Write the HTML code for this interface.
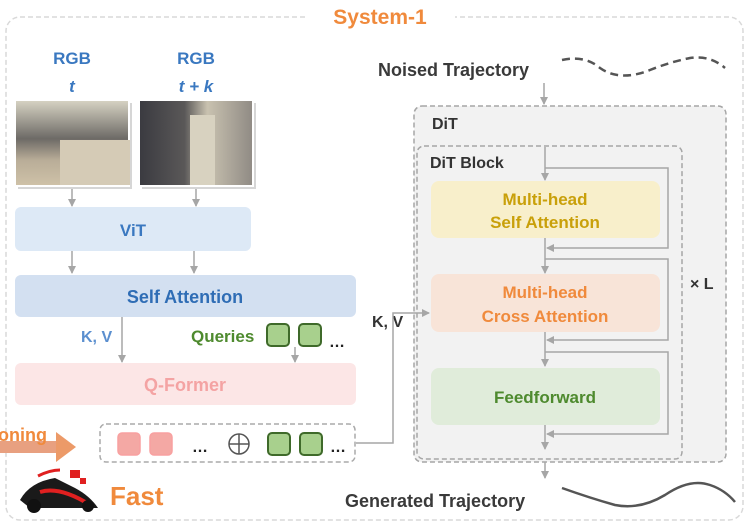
<!DOCTYPE html>
<html><head><meta charset="utf-8"><style>
body{margin:0;width:750px;height:526px;background:#fff;overflow:hidden;font-family:"Liberation Sans",sans-serif;}
</style></head><body>
<svg width="750" height="526" viewBox="0 0 750 526" xmlns="http://www.w3.org/2000/svg" font-family="Liberation Sans, sans-serif" font-weight="bold">
<defs>
<marker id="a" markerWidth="8" markerHeight="8" refX="7" refY="4" orient="auto" markerUnits="userSpaceOnUse"><path d="M0,0 L8,4 L0,8 z" fill="#a6a6a6"/></marker>
<linearGradient id="im1" x1="0" y1="0" x2="0" y2="1"><stop offset="0" stop-color="#d8d4c4"/><stop offset="0.45" stop-color="#6d6a66"/><stop offset="0.7" stop-color="#b9ad98"/><stop offset="1" stop-color="#cfc2a8"/></linearGradient>
<linearGradient id="im2" x1="0" y1="0" x2="1" y2="0"><stop offset="0" stop-color="#3a3a40"/><stop offset="0.4" stop-color="#5a5858"/><stop offset="0.6" stop-color="#c9c2b0"/><stop offset="1" stop-color="#8f8a84"/></linearGradient>
</defs>
<rect x="6" y="17" width="737" height="503" rx="14" fill="none" stroke="#d9d9d9" stroke-width="1.5" stroke-dasharray="5,3"/>
<rect x="305" y="4" width="150" height="26" fill="#fff"/>
<text x="380" y="24" text-anchor="middle" font-size="21" fill="#f08a3c">System-1</text>
<text x="72" y="64" text-anchor="middle" font-size="17" fill="#3a78c0">RGB</text>
<text x="72" y="92" text-anchor="middle" font-size="17" font-style="italic" fill="#3a78c0">t</text>
<text x="196" y="64" text-anchor="middle" font-size="17" fill="#3a78c0">RGB</text>
<text x="196" y="92" text-anchor="middle" font-size="17" font-style="italic" fill="#3a78c0">t + k</text>
<rect x="18" y="103" width="114" height="86" fill="#999" opacity="0.4"/>
<rect x="15" y="100" width="114" height="86" fill="url(#im1)" stroke="#fff" stroke-width="2"/>
<rect x="60" y="140" width="70" height="45" fill="#d5cbb6"/>
<rect x="142" y="103" width="114" height="86" fill="#999" opacity="0.4"/>
<rect x="139" y="100" width="114" height="86" fill="url(#im2)" stroke="#fff" stroke-width="2"/>
<rect x="190" y="115" width="25" height="70" fill="#d8d2c0"/>
<rect x="15" y="207" width="236" height="44" rx="6" fill="#dde9f6"/>
<text x="133" y="236" text-anchor="middle" font-size="17" fill="#3a78c0">ViT</text>
<rect x="15" y="275" width="341" height="42" rx="6" fill="#d3e0f1"/>
<text x="185" y="303" text-anchor="middle" font-size="18" fill="#2f6db5">Self Attention</text>
<text x="81" y="342" font-size="16" fill="#5b8fcf">K, V</text>
<text x="191" y="342" font-size="17" fill="#4e8a2e">Queries</text>
<rect x="267" y="324" width="22" height="22" rx="4" fill="#a8d08d" stroke="#3f6a2a" stroke-width="2"/>
<rect x="299" y="324" width="22" height="22" rx="4" fill="#a8d08d" stroke="#3f6a2a" stroke-width="2"/>
<text x="329" y="347" font-size="16" fill="#222">…</text>
<rect x="15" y="363" width="341" height="42" rx="6" fill="#fce6e6"/>
<text x="185" y="391" text-anchor="middle" font-size="18" fill="#f4a3a3">Q-Former</text>
<rect x="100" y="424" width="255" height="38" rx="6" fill="none" stroke="#aaa" stroke-width="1.5" stroke-dasharray="5,3"/>
<rect x="118" y="433" width="22" height="22" rx="4" fill="#f4a8a4" stroke="#f8a0a0" stroke-width="1.5"/>
<rect x="150" y="433" width="22" height="22" rx="4" fill="#f4a8a4" stroke="#f8a0a0" stroke-width="1.5"/>
<text x="192" y="452" font-size="16" fill="#222">…</text>
<circle cx="239" cy="444" r="10" fill="none" stroke="#555" stroke-width="1.5"/>
<line x1="229" y1="444" x2="249" y2="444" stroke="#555" stroke-width="1.5"/><line x1="239" y1="434" x2="239" y2="454" stroke="#555" stroke-width="1.5"/>
<rect x="268" y="433" width="22" height="22" rx="4" fill="#a8d08d" stroke="#3f6a2a" stroke-width="2"/>
<rect x="300" y="433" width="22" height="22" rx="4" fill="#a8d08d" stroke="#3f6a2a" stroke-width="2"/>
<text x="330" y="452" font-size="16" fill="#222">…</text>
<rect x="0" y="441" width="60" height="12" fill="#e8a080"/>
<path d="M56,432 L76,447 L56,462 z" fill="#ec9a68"/>
<text x="-2" y="441" font-size="18" fill="#f08a3c">oning</text>
<path d="M20,500 Q30,482 55,478 L75,488 Q90,496 98,508 L30,508 Z" fill="#1a1a1a"/>
<path d="M40,492 Q60,486 90,505" stroke="#e02020" stroke-width="4" fill="none"/>
<path d="M38,476 Q50,470 60,470" stroke="#e02020" stroke-width="3" fill="none"/>
<rect x="70" y="470" width="10" height="8" fill="#e02020"/><rect x="80" y="478" width="6" height="6" fill="#e02020"/>
<circle cx="34" cy="506" r="7" fill="#111"/><circle cx="88" cy="506" r="6" fill="#111"/>
<text x="110" y="505" font-size="26" fill="#f08a3c">Fast</text>
<text x="372" y="327" font-size="16" fill="#333">K, V</text>
<text x="378" y="76" font-size="18" fill="#3a3a3a">Noised Trajectory</text>
<path d="M562,60 Q585,55 600,68 Q620,82 650,70 Q670,62 690,58 Q710,55 725,68" fill="none" stroke="#555" stroke-width="2.5" stroke-dasharray="8,5"/>
<rect x="414" y="106" width="312" height="356" rx="8" fill="#f2f2f2" stroke="#a6a6a6" stroke-width="1.5" stroke-dasharray="5,3"/>
<text x="432" y="129" font-size="16" fill="#333">DiT</text>
<rect x="417" y="146" width="265" height="313" rx="7" fill="#f2f2f2" stroke="#a6a6a6" stroke-width="1.5" stroke-dasharray="5,3"/>
<text x="430" y="168" font-size="16" fill="#333">DiT Block</text>
<text x="690" y="289" font-size="16" fill="#333">× L</text>
<rect x="431" y="181" width="229" height="57" rx="8" fill="#f8efcb"/>
<text x="545" y="205" text-anchor="middle" font-size="17" fill="#c9a00a">Multi-head</text>
<text x="545" y="228" text-anchor="middle" font-size="17" fill="#c9a00a">Self Attention</text>
<rect x="431" y="274" width="229" height="58" rx="8" fill="#f8e4d8"/>
<text x="545" y="298" text-anchor="middle" font-size="17" fill="#f08a3c">Multi-head</text>
<text x="545" y="322" text-anchor="middle" font-size="17" fill="#f08a3c">Cross Attention</text>
<rect x="431" y="368" width="229" height="57" rx="8" fill="#e0ecda"/>
<text x="545" y="403" text-anchor="middle" font-size="17" fill="#4e8a2e">Feedforward</text>
<text x="345" y="507" font-size="18" fill="#3a3a3a">Generated Trajectory</text>
<path d="M562,488 Q590,498 615,505 Q640,510 665,495 Q690,478 710,485 Q725,490 735,502" fill="none" stroke="#555" stroke-width="2.5"/>
<g stroke="#a6a6a6" stroke-width="1.5" fill="none" marker-end="url(#a)">
<line x1="72" y1="189" x2="72" y2="206"/><line x1="196" y1="189" x2="196" y2="206"/>
<line x1="72" y1="251" x2="72" y2="273"/><line x1="194" y1="251" x2="194" y2="273"/>
<line x1="122" y1="317" x2="122" y2="362"/><line x1="295" y1="347" x2="295" y2="362"/>
<polyline points="356,443 393,443 393,313 429,313"/>
<line x1="544" y1="83" x2="544" y2="104"/>
<line x1="545" y1="147" x2="545" y2="180"/>
<line x1="545" y1="238" x2="545" y2="273"/>
<line x1="545" y1="332" x2="545" y2="366"/>
<line x1="545" y1="425" x2="545" y2="449"/>
<line x1="545" y1="462" x2="545" y2="478"/>
<polyline points="545,168 668,168 668,248 547,248"/>
<polyline points="545,259 668,259 668,340 547,340"/>
<polyline points="545,352 668,352 668,434 547,434"/>
</g>
</svg>
</body></html>
